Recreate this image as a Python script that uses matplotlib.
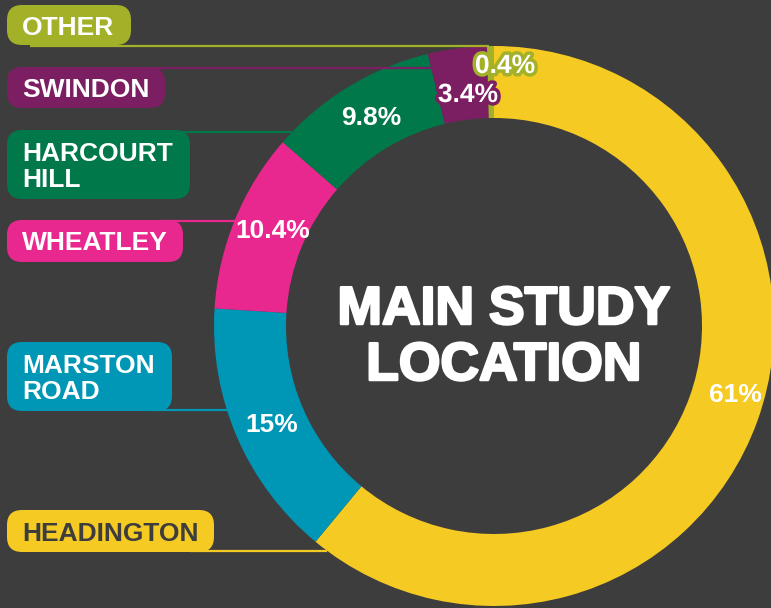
import matplotlib
matplotlib.use("Agg")
import matplotlib.pyplot as plt
from matplotlib.patches import FancyBboxPatch
import matplotlib.patheffects as pe

# ---- data ----
locations = ["HEADINGTON", "MARSTON\nROAD", "WHEATLEY", "HARCOURT\nHILL", "SWINDON", "OTHER"]
shares = [61, 15, 10.4, 9.8, 3.4, 0.4]
share_labels = ["61%", "15%", "10.4%", "9.8%", "3.4%", "0.4%"]
colors = ["#f5ca22", "#0096b5", "#e8288f", "#00784a", "#7c1f62", "#a3b128"]
title = "MAIN STUDY\nLOCATION"

# ---- layout (pixel coordinates, y downward) ----
W, H = 771, 608
BG = "#3d3d3d"
cx, cy = 494, 326
R_out, ring_w = 280, 72

# label boxes: (x0, y_top, width, height)
boxes = [(7, 510, 207, 42), (7, 342, 165, 69), (7, 220, 176, 42),
         (7, 130, 183, 69), (7, 67, 158, 41), (7, 5, 124, 40)]
text_baselines = [541, 373, 250, 161, 97, 35]   # baseline of first line
text_colors = ["#3d3d3d", "white", "white", "white", "white", "white"]
# leader lines: (y, x_start, x_end)
leaders = [(551, 190, 327), (410, 150, 228), (221, 160, 235),
           (132, 170, 292), (68, 150, 433), (46, 30, 489)]
# percentage label positions (center x, baseline y)
pct_pos = [(735, 402), (272, 432), (273, 238), (371, 125), (468, 102), (505, 73)]
pct_stroke = [None, None, None, None, "#7c1f62", "#a3b128"]

fig = plt.figure(figsize=(W / 100, H / 100), dpi=100, facecolor=BG)
ax = fig.add_axes([0, 0, 1, 1])
ax.set_facecolor(BG)

def Y(y):
    return H - y

ax.pie(shares, colors=colors, startangle=90, counterclock=False,
       radius=R_out, center=(cx, Y(cy)),
       wedgeprops=dict(width=ring_w, linewidth=0))

ax.set_xlim(0, W)
ax.set_ylim(0, H)
ax.set_aspect("equal")
ax.axis("off")

FONT = "Liberation Sans"

for i, name in enumerate(locations):
    ly, x0, x1 = leaders[i]
    ax.plot([x0, x1], [Y(ly), Y(ly)], color=colors[i], lw=1.6,
            solid_capstyle="butt", zorder=4)
    bx, by, bw, bh = boxes[i]
    box = FancyBboxPatch((bx, Y(by + bh)), bw, bh,
                         boxstyle="round,pad=0,rounding_size=15",
                         facecolor=colors[i], edgecolor="none", zorder=5)
    ax.add_patch(box)
    for k, line in enumerate(name.split("\n")):
        ax.text(22, Y(text_baselines[i] + 26 * k),
                line, color=text_colors[i], fontsize=19, fontweight="bold",
                family=FONT, ha="left", va="baseline", zorder=6)

for i, lab in enumerate(share_labels):
    px, py = pct_pos[i]
    t = ax.text(px, Y(py), lab, color="white", fontsize=19, fontweight="bold",
                family=FONT, ha="center", va="baseline", zorder=7)
    if pct_stroke[i]:
        t.set_path_effects([pe.withStroke(linewidth=5, foreground=pct_stroke[i])])

for k, line in enumerate(title.split("\n")):
    t = ax.text(504, Y(324 + 56 * k), line, color="white", fontsize=38.5,
                fontweight="bold", family=FONT, ha="center", va="baseline", zorder=7)
    t.set_path_effects([pe.withStroke(linewidth=1.8, foreground="white")])

fig.savefig("out.png", dpi=100, facecolor=BG)
